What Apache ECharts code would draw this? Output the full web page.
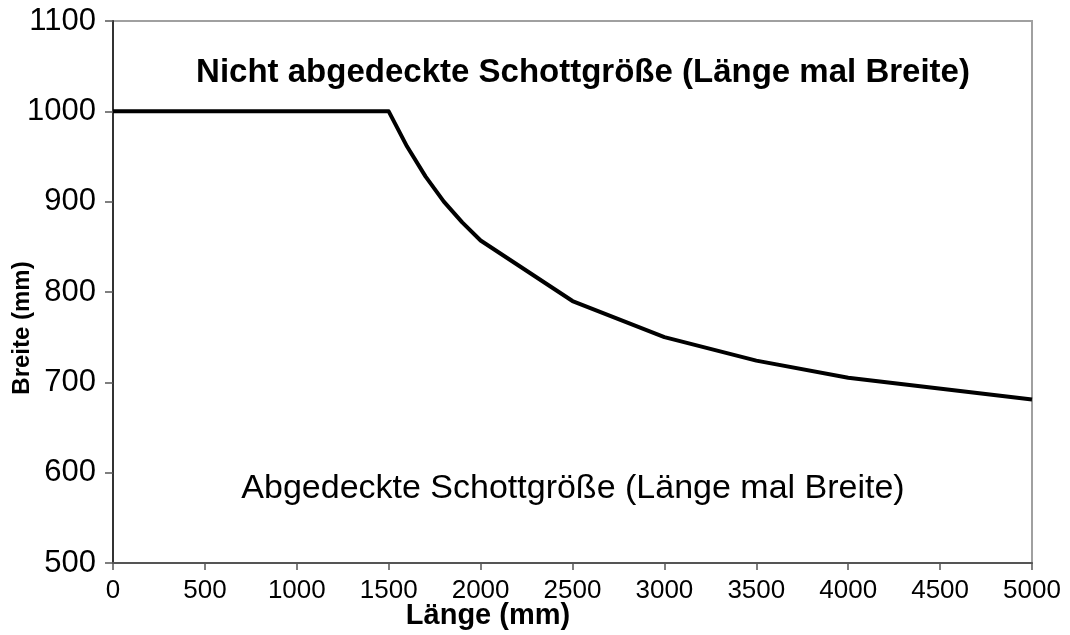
<!DOCTYPE html>
<html>
<head>
<meta charset="utf-8">
<script src="https://cdn.jsdelivr.net/npm/echarts@6/dist/echarts.min.js"></script>
<style>
html,body{margin:0;padding:0;background:#fff;}
#chart{width:1070px;height:635px;}
</style>
</head>
<body>
<div id="chart"></div>
<script>
var laenge = [0, 1500, 1600, 1700, 1800, 1900, 2000, 2500, 3000, 3500, 4000, 5000];
var breite = [1000, 1000, 961, 928, 900, 877, 857, 790, 750, 724, 705, 681];
var xTicks = [0, 500, 1000, 1500, 2000, 2500, 3000, 3500, 4000, 4500, 5000];
var yTicks = [500, 600, 700, 800, 900, 1000, 1100];
var upperText = 'Nicht abgedeckte Schottgröße (Länge mal Breite)';
var lowerText = 'Abgedeckte Schottgröße (Länge mal Breite)';
var xTitle = 'Länge (mm)';
var yTitle = 'Breite (mm)';

var points = laenge.map(function (x, i) { return [x, breite[i]]; });
var font = '"Liberation Sans", Arial, sans-serif';
function plain(v) { return String(v); }

var chart = echarts.init(document.getElementById('chart'), null, {renderer: 'canvas'});
chart.setOption({
  animation: false,
  backgroundColor: '#ffffff',
  grid: {left: 113, right: 38, top: 21, bottom: 72, show: true, borderColor: '#a0a0a0', borderWidth: 2, backgroundColor: 'transparent'},
  xAxis: {
    type: 'value', min: xTicks[0], max: xTicks[xTicks.length - 1], interval: 500,
    axisLine: {show: true, onZero: false, lineStyle: {color: '#555', width: 2}},
    axisTick: {show: true, inside: false, length: 7, lineStyle: {color: '#555', width: 1.5}},
    axisLabel: {color: '#000', fontFamily: font, fontSize: 26, margin: 15, formatter: plain},
    splitLine: {show: false}
  },
  yAxis: {
    type: 'value', min: yTicks[0], max: yTicks[yTicks.length - 1], interval: 100,
    axisLine: {show: true, onZero: false, lineStyle: {color: '#333', width: 2}},
    axisTick: {show: true, inside: false, length: 8, lineStyle: {color: '#555', width: 1.5}},
    axisLabel: {color: '#000', fontFamily: font, fontSize: 31, margin: 17, formatter: plain},
    splitLine: {show: false}
  },
  graphic: [
    {type: 'text', z: 10, x: 583, y: 73, style: {text: upperText, fill: '#000', font: 'bold 33px ' + font, textAlign: 'center', textVerticalAlign: 'middle'}},
    {type: 'text', z: 10, x: 573, y: 489, style: {text: lowerText, fill: '#000', font: '34px ' + font, textAlign: 'center', textVerticalAlign: 'middle'}},
    {type: 'text', z: 10, x: 488, y: 616, style: {text: xTitle, fill: '#000', font: 'bold 29px ' + font, textAlign: 'center', textVerticalAlign: 'middle'}},
    {type: 'text', z: 10, x: 22, y: 328, rotation: Math.PI / 2, style: {text: yTitle, fill: '#000', font: 'bold 24px ' + font, textAlign: 'center', textVerticalAlign: 'middle'}}
  ],
  series: [{
    type: 'line', data: points, showSymbol: false, symbol: 'none',
    lineStyle: {color: '#000', width: 4, join: 'round'},
    smooth: false, clip: false
  }]
});
</script>
</body>
</html>
